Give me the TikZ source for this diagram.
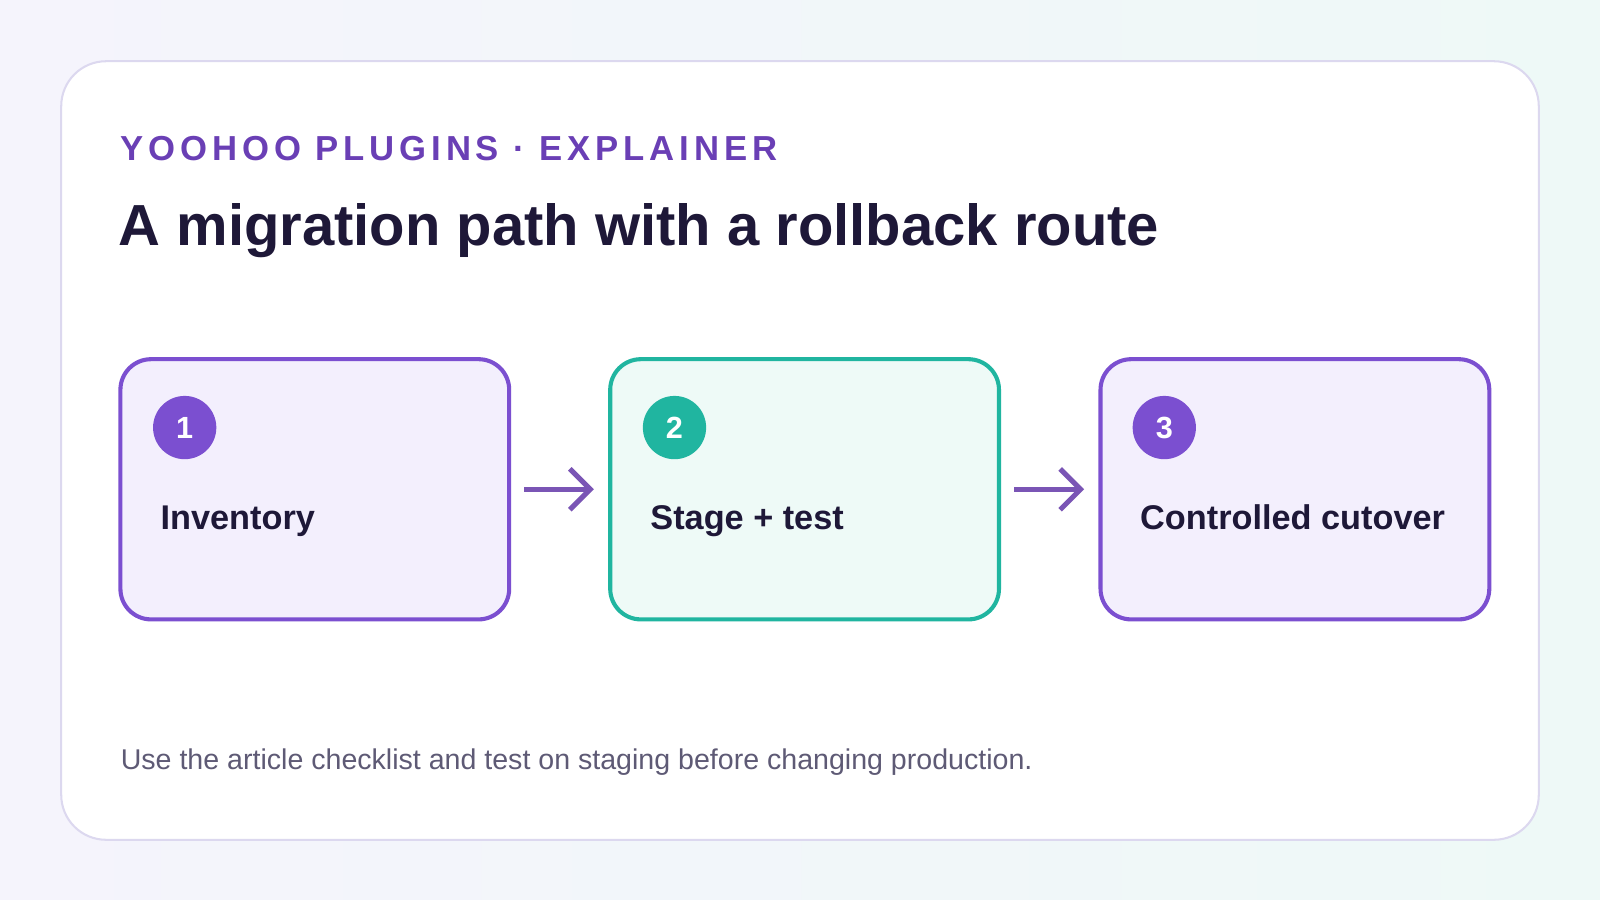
\documentclass[tikz,border=0pt]{standalone}
\usepackage{fontspec}
\setmainfont{Liberation Sans}
\usetikzlibrary{positioning,arrows.meta,calc}
\definecolor{purp}{HTML}{7B4FD0}
\definecolor{purpfill}{HTML}{F3EFFD}
\definecolor{teal}{HTML}{20B5A0}
\definecolor{tealfill}{HTML}{EEFAF7}
\definecolor{ink}{HTML}{1E1838}
\definecolor{kicker}{HTML}{6A3FB5}
\definecolor{muted}{HTML}{5E5A75}
\definecolor{cardline}{HTML}{DCD8EF}
\definecolor{arrowc}{HTML}{7A55B5}
\definecolor{bgleft}{HTML}{F5F4FC}
\definecolor{bgright}{HTML}{EEF9F7}
\tikzset{
  step/.style={draw=#1, line width=2pt, rounded corners=15pt, minimum width=190.5pt, minimum height=127.5pt},
  badge/.style={circle, fill=#1, minimum size=31pt, inner sep=0pt, text=white, font=\bfseries\fontsize{15}{15}\selectfont},
  steplabel/.style={anchor=base west, text=ink, font=\bfseries\fontsize{16.8}{18}\selectfont, inner sep=0pt},
  flow/.style={draw=arrowc, line width=2.5pt, shorten <=6.5pt, shorten >=7pt, -{Straight Barb[length=10pt,width=20pt,line width=2.5pt]}}
}
\begin{document}
\begin{tikzpicture}[x=0.5pt,y=-0.5pt]
    \useasboundingbox (0,0) rectangle (1568,882);
    % background and card
    \shade[left color=bgleft, right color=bgright] (0,0) rectangle (1568,882);
    \draw[cardline, fill=white, line width=1pt, rounded corners=22pt] (60,60) rectangle (1508,823);

    % header
    \node[anchor=base west, inner sep=0pt, text=kicker, font=\bfseries\fontsize{17}{20}\selectfont\addfontfeature{LetterSpace=14}] (kick) at (118,157) {YOOHOO PLUGINS · EXPLAINER};
    \node[anchor=base west, inner sep=0pt, text=ink, font=\bfseries\fontsize{28.4}{32}\selectfont] (title) at (116,241) {A migration path with a rollback route};

    % steps
    \node[step=purp, fill=purpfill] (inv) at (308.5,479.5) {};
    \node[step=teal, fill=tealfill] (stage) at (788.5,479.5) {};
    \node[step=purp, fill=purpfill] (cut) at (1269,479.5) {};

    \node[badge=purp] (n1) at (181,419) {1};
    \node[badge=teal] (n2) at (661,419) {2};
    \node[badge=purp] (n3) at (1141,419) {3};

    \node[steplabel] (l1) at (157,519) {Inventory};
    \node[steplabel] (l2) at (637,519) {Stage + test};
    \node[steplabel] (l3) at (1117,519) {Controlled cutover};

    \draw[flow] (inv.east) -- (stage.west);
    \draw[flow] (stage.east) -- (cut.west);

    % footnote
    \node[anchor=base west, inner sep=0pt, text=muted, font=\fontsize{14}{16}\selectfont] (note) at (118,754) {Use the article checklist and test on staging before changing production.};
\end{tikzpicture}
\end{document}
